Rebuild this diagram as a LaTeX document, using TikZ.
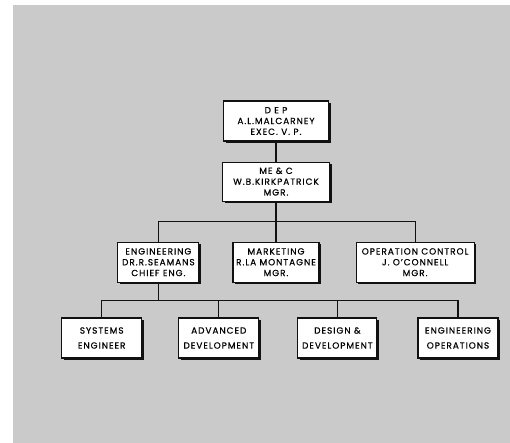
\documentclass[tikz,border=0pt]{standalone}
\usepackage{fontspec}
\setmainfont{Poppins}[LetterSpace=11,FakeBold=0.5]
\usepackage{xcolor}
\usepackage{tikz}
\usetikzlibrary{positioning,calc,shadows}
\definecolor{screen}{HTML}{CACACA}
\definecolor{ink}{HTML}{111111}

\begin{document}
\begin{tikzpicture}[x=1pt,y=1pt,
  node distance=40pt and 33pt,
  box/.style={draw=ink,fill=white,line width=1.1pt,align=center,font=\fontsize{8.9}{10.8}\selectfont,
    minimum height=40pt,inner sep=0pt,
    drop shadow={opacity=1,fill=ink,shadow xshift=2.2pt,shadow yshift=-2.2pt}},
  unit/.style={box,minimum width=80pt,font=\fontsize{8.9}{15}\selectfont},
  link/.style={draw=ink,line width=1.1pt}]
\useasboundingbox (0,0) rectangle (510,-443);
\fill[screen] (13,-5) rectangle (510,-443);
\node[box,minimum width=105pt] (dep) at (276,-121) {D E P\\A.L.MALCARNEY\\EXEC. V. P.};
\node[box,minimum width=107pt,minimum height=39pt,below=20pt of dep] (mec) {ME \& C\\W.B.KIRKPATRICK\\MGR.};
\node[box,minimum width=86pt,below=40pt of mec] (mkt) {MARKETING\\R.LA MONTAGNE\\MGR.};
\node[box,minimum width=81pt,left=33pt of mkt] (eng) {ENGINEERING\\DR.R.SEAMANS\\CHIEF ENG.};
\node[box,minimum width=118pt,right=36pt of mkt] (ops) {OPERATION CONTROL\\J. O'CONNELL\\MGR.};
\node[unit] (sys) at (101.7,-338) {SYSTEMS\\ENGINEER};
\node[unit,right=36pt of sys] (adv) {ADVANCED\\DEVELOPMENT};
\node[unit,minimum width=79pt,right=38pt of adv] (des) {DESIGN \&\\DEVELOPMENT};
\node[unit,right=40pt of des] (eop) {ENGINEERING\\OPERATIONS};
% bus lines
\coordinate (b1) at ($(mec.south)!.5!(mkt.north)$);
\coordinate (b2) at ($(eng.south)!.5!(eng.south |- sys.north)$);
\draw[link] (dep) -- (mec); \draw[link] (mec) -- (mkt);
\draw[link] (eng.north) |- (b1) -| (ops.north);
\draw[link] (eng) -- (b2);
\draw[link] (sys.north) |- (b2) -| (eop.north);
\draw[link] (adv.north) -- (adv.north |- b2); \draw[link] (des.north) -- (des.north |- b2);
\end{tikzpicture}
\end{document}
